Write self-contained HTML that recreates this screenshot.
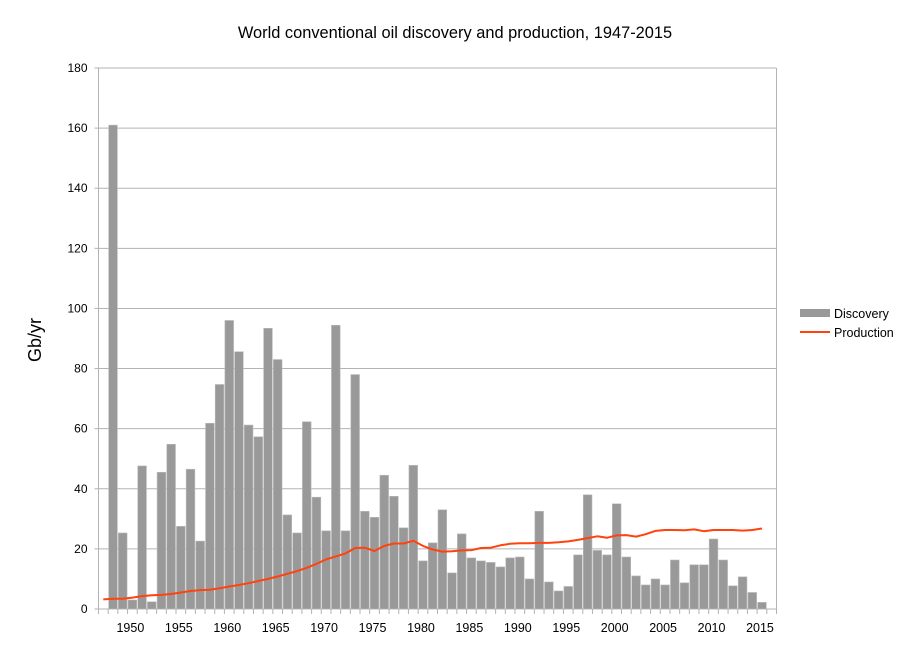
<!DOCTYPE html>
<html><head><meta charset="utf-8"><style>
body{margin:0;background:#fff;width:908px;height:647px;overflow:hidden;font-family:"Liberation Sans",sans-serif}
</style></head><body>
<svg id="chart" width="908" height="647" xmlns="http://www.w3.org/2000/svg" font-family="Liberation Sans, sans-serif">
<rect width="908" height="647" fill="#fff"/>
<text x="455" y="38" text-anchor="middle" font-size="16.4" fill="#000">World conventional oil discovery and production, 1947-2015</text>
<text transform="translate(41,340) rotate(-90)" text-anchor="middle" font-size="18" fill="#000">Gb/yr</text>
<g id="grid"></g><g id="bars"></g><g id="axes"></g><g id="line"></g>
<g>
<rect x="800" y="309" width="30" height="8" fill="#999"/>
<text x="834" y="318" font-size="12.5">Discovery</text>
<line x1="800" y1="332" x2="830" y2="332" stroke="#ff420e" stroke-width="2"/>
<text x="834" y="337" font-size="12.5">Production</text>
</g>
</svg>
<script>
const years=[];for(let y=1947;y<=2015;y++)years.push(y);
const discovery=[0,161,25.3,3.0,47.6,2.4,45.5,54.8,27.5,46.5,22.6,61.8,74.7,96.0,85.6,61.2,57.3,93.4,83.0,31.3,25.3,62.3,37.2,26.0,94.4,26.0,78,32.5,30.5,44.5,37.5,27,47.8,16,22,33,12,25,17,16,15.5,14,17,17.3,10,32.5,9,6,7.5,18,38,19.5,18,35,17.3,11,8,10,8,16.3,8.7,14.7,14.7,23.3,16.3,7.7,10.7,5.5,2.2];
const production=[3.2,3.4,3.4,3.8,4.3,4.6,4.7,5.0,5.5,6.0,6.3,6.4,6.9,7.5,8.0,8.6,9.3,10.0,10.8,11.7,12.6,13.7,15.0,16.5,17.5,18.5,20.3,20.4,19.3,21.0,21.8,21.8,22.7,21.0,19.8,19.1,19.2,19.5,19.6,20.3,20.4,21.2,21.7,21.9,21.9,22.0,22.0,22.2,22.5,23.0,23.6,24.2,23.7,24.5,24.6,24.1,24.9,26.0,26.3,26.3,26.2,26.5,25.9,26.3,26.3,26.3,26.1,26.3,26.8];
const yTicks=[0,20,40,60,80,100,120,140,160,180];
const xLabels=[1950,1955,1960,1965,1970,1975,1980,1985,1990,1995,2000,2005,2010,2015];
const L=98.5,R=776.5,T=68,B=609,nCat=70,slot=(R-L)/nCat;
const xs=y=>L+(y-1947+0.5)*slot;
const ys=v=>B-(v/180)*(B-T);
const NS="http://www.w3.org/2000/svg";
function mk(tag,attrs,parent){const e=document.createElementNS(NS,tag);for(const k in attrs)e.setAttribute(k,attrs[k]);parent.appendChild(e);return e;}
const grid=document.getElementById('grid'),bars=document.getElementById('bars'),axes=document.getElementById('axes'),line=document.getElementById('line');
yTicks.forEach(v=>{
 const g=mk('line',{x1:L,x2:R,y1:ys(v),y2:ys(v),stroke:'#b3b3b3','stroke-width':1},grid);
 
 
 const tk=mk('line',{x1:L-4,x2:L,y1:ys(v),y2:ys(v),stroke:'#b3b3b3'},axes);
 
 
 const t=mk('text',{x:L-11,y:ys(v)+4,'text-anchor':'end','font-size':12},axes);t.textContent=v;
 
 
});
const ax=mk('line',{x1:L,x2:L,y1:T,y2:B,stroke:'#b3b3b3'},axes);


const ax2=mk('line',{x1:R,x2:R,y1:T,y2:B,stroke:'#b3b3b3'},axes);


for(let i=0;i<=nCat;i++){
 const tk=mk('line',{x1:L+i*slot,x2:L+i*slot,y1:B,y2:B+5,stroke:'#b3b3b3'},axes);
 
 
}
years.forEach((y,i)=>{
 const v=discovery[i];if(!v)return;
 const r=mk('rect',{x:xs(y)-slot/2+0.5,y:ys(v),width:slot-1,height:B-ys(v),fill:'#999',stroke:'#bbb','stroke-width':0.6},bars);
 
 
});
xLabels.forEach(y=>{
 const t=mk('text',{x:xs(y)-2,y:632,'text-anchor':'middle','font-size':12.5},axes);t.textContent=y;
 
 
});
const pts=years.map((y,i)=>xs(y).toFixed(1)+','+ys(production[i]).toFixed(1)).join(' ');
const pl=mk('polyline',{points:pts,fill:'none',stroke:'#ff420e','stroke-width':2,'stroke-linejoin':'round'},line);


</script>
</body></html>
